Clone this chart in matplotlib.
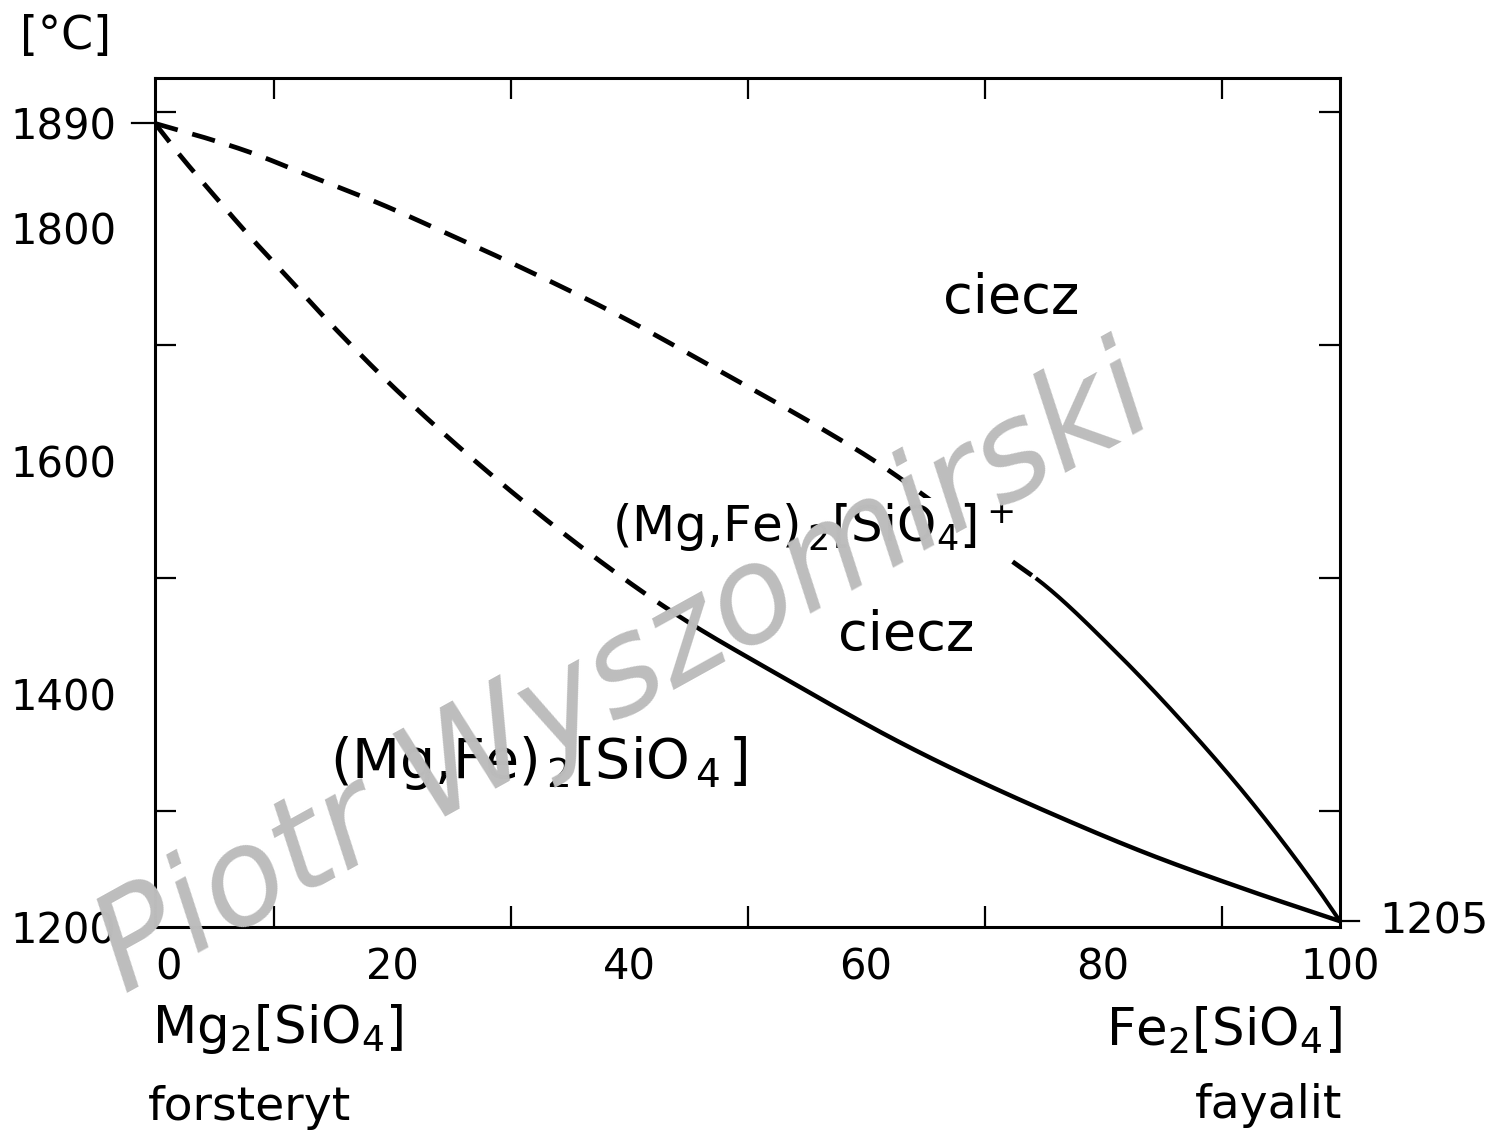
import numpy as np
import matplotlib.pyplot as plt
import matplotlib.transforms as mtransforms

# composition, % Fe2[SiO4]  /  temperature, degC
liq_x = [0, 3.8, 7.8, 12.8, 19, 24.1, 29.7, 38.6, 47.9, 56.4, 60.9, 72.6,
         74.9, 81.2, 86.8, 92.4, 98.1, 100]
liq_t = [1890, 1879, 1866, 1846, 1821, 1798, 1772, 1728, 1676, 1627, 1599,
         1512, 1495, 1435, 1375, 1309, 1233, 1205]
sol_x = [0, 2, 5, 8, 11, 15, 20.7, 30.3, 40, 44.5, 52.7, 58.6, 62.4, 67.1,
         75.5, 84, 92.4, 100]
sol_t = [1890, 1864, 1828, 1793, 1760, 1716, 1658, 1572, 1496, 1465, 1416,
         1382, 1361, 1337, 1298, 1262, 1231, 1205]
liq_dash_end = 74.5   # liquidus dashed below this composition
sol_dash_end = 44.0   # solidus dashed below this composition

x_ticks = [0, 20, 40, 60, 80, 100]
y_ticks = [1200, 1400, 1600, 1800, 1890]
y_minor = [1300, 1400, 1500, 1600, 1700, 1800, 1900]
x_minor = [10, 20, 30, 40, 50, 60, 70, 80, 90]

plt.rcParams['font.family'] = 'DejaVu Sans'
plt.rcParams['mathtext.fontset'] = 'dejavusans'


def pchip(xs, ys, xf):
    """Monotone cubic through the read points (Fritsch-Carlson)."""
    xs = np.asarray(xs, float)
    ys = np.asarray(ys, float)
    h = np.diff(xs)
    d = np.diff(ys) / h
    m = np.zeros_like(ys)
    m[0], m[-1] = d[0], d[-1]
    for i in range(1, len(xs) - 1):
        if d[i - 1] * d[i] > 0:
            w1 = 2 * h[i] + h[i - 1]
            w2 = h[i] + 2 * h[i - 1]
            m[i] = (w1 + w2) / (w1 / d[i - 1] + w2 / d[i])
    idx = np.clip(np.searchsorted(xs, xf) - 1, 0, len(xs) - 2)
    t = (xf - xs[idx]) / h[idx]
    h00 = 2 * t**3 - 3 * t**2 + 1
    h10 = t**3 - 2 * t**2 + t
    h01 = -2 * t**3 + 3 * t**2
    h11 = t**3 - t**2
    return (h00 * ys[idx] + h10 * h[idx] * m[idx]
            + h01 * ys[idx + 1] + h11 * h[idx] * m[idx + 1])


def split(xs, ts, xcut):
    xf = np.linspace(0, 100, 600)
    tf = pchip(xs, ts, xf)
    m = xf <= xcut
    k = np.argmax(~m)
    return (xf[m], tf[m]), (xf[k - 1:], tf[k - 1:])


fig = plt.figure(figsize=(14.86, 11.35), dpi=100)
ax = fig.add_axes([155 / 1486, 1 - 927 / 1135, 1185 / 1486, 849 / 1135])
ax.set_xlim(0, 100)
ax.set_ylim(1200, 1929)

for s in ax.spines.values():
    s.set_linewidth(2.2)

(ldx, ldt), (lsx, lst) = split(liq_x, liq_t, liq_dash_end)
(sdx, sdt), (ssx, sst) = split(sol_x, sol_t, sol_dash_end)
ax.plot(ldx, ldt, color='black', lw=3.4, dashes=(5, 3.2))
ax.plot(sdx, sdt, color='black', lw=3.4, dashes=(5, 3.2))
ax.plot(lsx, lst, color='black', lw=2.9)
ax.plot(ssx, sst, color='black', lw=3.2)

# ticks
ax.set_xticks(x_ticks)
ax.set_xticks(x_minor, minor=True)
ax.set_yticks(y_ticks)
ax.set_yticks(y_minor, minor=True)
ax.tick_params(which='major', length=0, labelsize=30, pad=14)
ax.tick_params(axis='y', which='major', pad=28)
ax.tick_params(which='minor', direction='in', length=15, width=1.6,
               top=True, right=True)
for lbl in ax.get_xticklabels():
    if lbl.get_text() == '0':
        lbl.set_horizontalalignment('left')

# outward ticks at 1890 (left) and 1205 (right)
tr = mtransforms.blended_transform_factory(ax.transAxes, ax.transData)
ax.plot([-0.019, 0], [1890, 1890], color='black', lw=1.6, transform=tr, clip_on=False)
ax.plot([1, 1.016], [1205, 1205], color='black', lw=1.6, transform=tr, clip_on=False)
ax.text(1.033, 1205, '1205', transform=tr, fontsize=31, ha='left', va='center')

# field labels
ax.text(66.5, 1727, 'ciecz', fontsize=39, ha='left', va='baseline')
ax.text(38.6, 1530, r'(Mg,Fe)$_{\,2}$[SiO$_{4}$]$^+$', fontsize=36, ha='left', va='baseline',
        bbox=dict(facecolor='white', edgecolor='none', pad=1))
ax.text(57.6, 1438, 'ciecz', fontsize=39, ha='left', va='baseline')
ax.text(14.8, 1328, r'(Mg,Fe)$_{\,2}$[SiO$_{\,4\,}$]', fontsize=40, ha='left', va='baseline')

# end members and unit
fig.text(20 / 1486, 1 - 37 / 1135, '[°C]', fontsize=33, ha='left', va='center')
fig.text(152 / 1486, 1 - 1043 / 1135, r'Mg$_2$[SiO$_4$]', fontsize=37, ha='left', va='baseline')
fig.text(148 / 1486, 1 - 1120 / 1135, 'forsteryt', fontsize=34, ha='left', va='baseline')
fig.text(1342 / 1486, 1 - 1046 / 1135, r'Fe$_2$[SiO$_4$]', fontsize=37, ha='right', va='baseline')
fig.text(1342 / 1486, 1 - 1118 / 1135, 'fayalit', fontsize=34, ha='right', va='baseline')

# watermark
fig.text(625 / 1486, 1 - 675 / 1135, 'Piotr Wyszomirski', fontsize=96, color='#bdbdbd',
         style='italic', rotation=29, ha='center', va='center', rotation_mode='anchor',
         zorder=10)

fig.savefig('out.png', dpi=100)
